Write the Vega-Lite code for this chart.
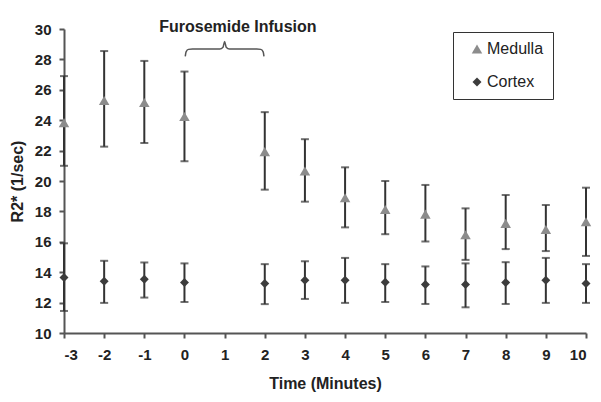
{
  "$schema": "https://vega.github.io/schema/vega-lite/v6.json",
  "width": 522,
  "height": 304,
  "autosize": "none",
  "padding": {"left": 64, "top": 29, "right": 15, "bottom": 69},
  "background": "white",
  "config": {
    "view": {"stroke": null},
    "font": "Liberation Sans",
    "axis": {"grid": false, "domainColor": "#555555", "domainWidth": 2, "tickColor": "#555555", "tickWidth": 2, "tickSize": 5,
      "labelFont": "Liberation Sans", "labelFontWeight": "bold", "labelFontSize": 15, "labelColor": "#222222",
      "titleFont": "Liberation Sans", "titleFontWeight": "bold", "titleFontSize": 16, "titleColor": "#222222"}
  },
  "datasets": {
    "points": [
      {"time": -3, "tissue": "Medulla", "r2": 23.84, "lo": 21.0, "hi": 26.9},
      {"time": -2, "tissue": "Medulla", "r2": 25.3, "lo": 22.26, "hi": 28.55},
      {"time": -1, "tissue": "Medulla", "r2": 25.16, "lo": 22.5, "hi": 27.9},
      {"time": 0, "tissue": "Medulla", "r2": 24.24, "lo": 21.3, "hi": 27.2},
      {"time": 2, "tissue": "Medulla", "r2": 21.93, "lo": 19.43, "hi": 24.53},
      {"time": 3, "tissue": "Medulla", "r2": 20.66, "lo": 18.64, "hi": 22.75},
      {"time": 4, "tissue": "Medulla", "r2": 18.9, "lo": 16.95, "hi": 20.9},
      {"time": 5, "tissue": "Medulla", "r2": 18.13, "lo": 16.5, "hi": 20.0},
      {"time": 6, "tissue": "Medulla", "r2": 17.82, "lo": 16.02, "hi": 19.74},
      {"time": 7, "tissue": "Medulla", "r2": 16.46, "lo": 14.81, "hi": 18.2},
      {"time": 8, "tissue": "Medulla", "r2": 17.21, "lo": 15.52, "hi": 19.08},
      {"time": 9, "tissue": "Medulla", "r2": 16.81, "lo": 15.39, "hi": 18.42},
      {"time": 10, "tissue": "Medulla", "r2": 17.32, "lo": 15.07, "hi": 19.56},
      {"time": -3, "tissue": "Cortex", "r2": 13.65, "lo": 11.45, "hi": 15.9},
      {"time": -2, "tissue": "Cortex", "r2": 13.4, "lo": 11.98, "hi": 14.75},
      {"time": -1, "tissue": "Cortex", "r2": 13.54, "lo": 12.33, "hi": 14.64},
      {"time": 0, "tissue": "Cortex", "r2": 13.32, "lo": 12.04, "hi": 14.58},
      {"time": 2, "tissue": "Cortex", "r2": 13.26, "lo": 11.9, "hi": 14.53},
      {"time": 3, "tissue": "Cortex", "r2": 13.47, "lo": 12.24, "hi": 14.72},
      {"time": 4, "tissue": "Cortex", "r2": 13.47, "lo": 11.98, "hi": 14.94},
      {"time": 5, "tissue": "Cortex", "r2": 13.34, "lo": 12.04, "hi": 14.53},
      {"time": 6, "tissue": "Cortex", "r2": 13.19, "lo": 11.91, "hi": 14.38},
      {"time": 7, "tissue": "Cortex", "r2": 13.19, "lo": 11.69, "hi": 14.58},
      {"time": 8, "tissue": "Cortex", "r2": 13.32, "lo": 11.91, "hi": 14.66},
      {"time": 9, "tissue": "Cortex", "r2": 13.47, "lo": 11.98, "hi": 14.94},
      {"time": 10, "tissue": "Cortex", "r2": 13.26, "lo": 11.98, "hi": 14.53}
    ],
    "brace": [
      {"i": 1, "x": 0.02, "y": 28.2},
      {"i": 2, "x": 0.04, "y": 28.5},
      {"i": 3, "x": 0.1, "y": 28.66},
      {"i": 4, "x": 0.2, "y": 28.68},
      {"i": 5, "x": 0.88, "y": 28.68},
      {"i": 6, "x": 0.96, "y": 28.8},
      {"i": 7, "x": 1.0, "y": 29.18},
      {"i": 8, "x": 1.04, "y": 28.8},
      {"i": 9, "x": 1.12, "y": 28.68},
      {"i": 10, "x": 1.8, "y": 28.68},
      {"i": 11, "x": 1.9, "y": 28.66},
      {"i": 12, "x": 1.96, "y": 28.5},
      {"i": 13, "x": 1.98, "y": 28.2}
    ],
    "note": [{"x": 1.33, "y": 30.12, "label": "Furosemide Infusion"}]
  },
  "encoding": {
    "x": {"type": "quantitative", "scale": {"domain": [-3, 10], "nice": false, "zero": false},
      "axis": {"values": [-3,-2,-1,0,1,2,3,4,5,6,7,8,9,10], "labelExpr": "'' + datum.value", "labelOverlap": false, "title": "Time (Minutes)", "labelPadding": 9, "titlePadding": 13}},
    "y": {"type": "quantitative", "scale": {"domain": [10, 30], "nice": false, "zero": false},
      "axis": {"values": [10,12,14,16,18,20,22,24,26,28,30], "tickCount": 11, "labelExpr": "'' + datum.value", "labelOverlap": false, "labelSeparation": 0, "title": "R2* (1/sec)", "labelPadding": 8, "titlePadding": 9}}
  },
  "layer": [
    {
      "data": {"name": "points"},
      "mark": {"type": "rule", "strokeWidth": 2, "color": "#333333"},
      "encoding": {
        "x": {"field": "time", "type": "quantitative"},
        "y": {"field": "lo", "type": "quantitative"},
        "y2": {"field": "hi"}
      }
    },
    {
      "data": {"name": "points"},
      "mark": {"type": "tick", "orient": "horizontal", "size": 8, "thickness": 2, "color": "#333333"},
      "encoding": {
        "x": {"field": "time", "type": "quantitative"},
        "y": {"field": "lo", "type": "quantitative"}
      }
    },
    {
      "data": {"name": "points"},
      "mark": {"type": "tick", "orient": "horizontal", "size": 8, "thickness": 2, "color": "#333333"},
      "encoding": {
        "x": {"field": "time", "type": "quantitative"},
        "y": {"field": "hi", "type": "quantitative"}
      }
    },
    {
      "data": {"name": "points"},
      "mark": {"type": "point", "filled": true, "opacity": 1},
      "encoding": {
        "x": {"field": "time", "type": "quantitative"},
        "y": {"field": "r2", "type": "quantitative"},
        "shape": {"field": "tissue", "type": "nominal", "scale": {"domain": ["Medulla", "Cortex"], "range": ["triangle-up", "diamond"]}, "legend": null},
        "size": {"field": "tissue", "type": "nominal", "scale": {"domain": ["Medulla", "Cortex"], "range": [110, 80]}, "legend": null},
        "color": {"field": "tissue", "type": "nominal", "scale": {"domain": ["Medulla", "Cortex"], "range": ["#8c8c8c", "#3c3c3c"]},
          "legend": {"title": null, "orient": "none", "legendX": 389, "legendY": 3, "strokeColor": "#333333", "padding": 9, "rowPadding": 17,
            "symbolOffset": 7, "labelOffset": 2, "labelFontSize": 16, "labelFont": "Liberation Sans", "labelColor": "#222222", "symbolSize": 90, "symbolStrokeWidth": 0}}
      }
    },
    {
      "data": {"name": "brace"},
      "mark": {"type": "line", "color": "#555555", "strokeWidth": 1.5, "interpolate": "monotone"},
      "encoding": {
        "x": {"field": "x", "type": "quantitative"},
        "y": {"field": "y", "type": "quantitative"},
        "order": {"field": "i", "type": "quantitative"}
      }
    },
    {
      "data": {"name": "note"},
      "mark": {"type": "text", "font": "Liberation Sans", "fontWeight": "bold", "fontSize": 16, "color": "#222222", "baseline": "middle", "align": "center"},
      "encoding": {
        "x": {"field": "x", "type": "quantitative"},
        "y": {"field": "y", "type": "quantitative"},
        "text": {"field": "label"}
      }
    }
  ]
}
